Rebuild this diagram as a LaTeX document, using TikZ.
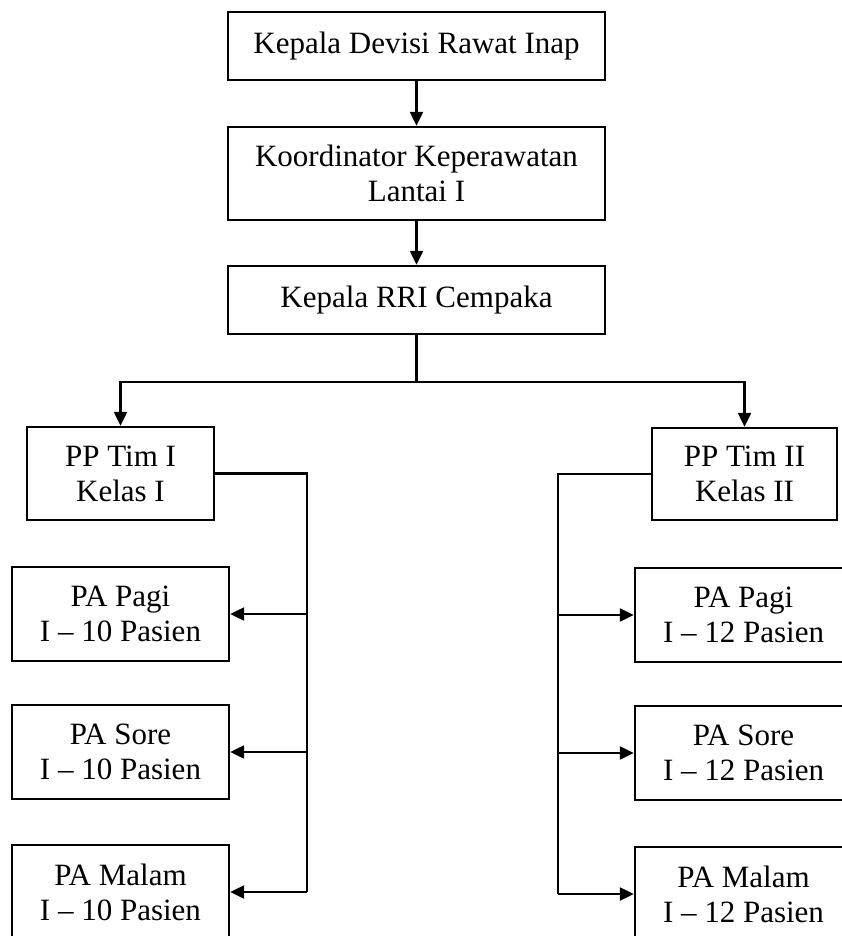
\documentclass[tikz,border=0pt]{standalone}
\usepackage{fontspec}
\setmainfont{Liberation Serif}
\usetikzlibrary{arrows.meta}
\begin{document}
\begin{tikzpicture}[x=1pt,y=-1pt,
  box/.style={draw, line width=2.4pt, rectangle, align=center, inner sep=0pt,
    font=\fontsize{31}{35}\selectfont},
  conn/.style={line width=2.3pt},
  arr/.style={conn, -{Triangle[length=14pt,width=13pt]}}]
\useasboundingbox (0,0) rectangle (842,936);
\clip (0,0) rectangle (842,936);
\node[box, minimum width=377pt, minimum height=68pt] (kd) at (416.5,46) {Kepala Devisi Rawat Inap};
\node[box, minimum width=377pt, minimum height=93pt] (kk) at (416.5,173.5) {Koordinator Keperawatan\\Lantai I};
\node[box, minimum width=377pt, minimum height=68pt] (kr) at (416.5,300) {Kepala RRI Cempaka};
\node[box, minimum width=187pt, minimum height=93pt] (pp1) at (120.5,473.5) {PP Tim I\\Kelas I};
\node[box, minimum width=185pt, minimum height=92pt] (pp2) at (744.5,474) {PP Tim II\\Kelas II};
\node[box, minimum width=217pt, minimum height=94pt] (l1) at (120.5,614) {PA Pagi\\I -- 10 Pasien};
\node[box, minimum width=217pt, minimum height=94pt] (l2) at (120.5,752) {PA Sore\\I -- 10 Pasien};
\node[box, minimum width=217pt, minimum height=94pt] (l3) at (120.5,892) {PA Malam\\I -- 10 Pasien};
\node[box, minimum width=217pt, minimum height=94pt] (r1) at (743.5,615) {PA Pagi\\I -- 12 Pasien};
\node[box, minimum width=217pt, minimum height=94pt] (r2) at (743.5,753) {PA Sore\\I -- 12 Pasien};
\node[box, minimum width=217pt, minimum height=94pt] (r3) at (743.5,894) {PA Malam\\I -- 12 Pasien};
\draw[arr] (kd) -- (kk);
\draw[arr] (kk) -- (kr);
\coordinate (j) at (416.5,382);
\draw[conn] (kr.south) -- (j);
\draw[arr] (j) -| (pp1.north);
\draw[arr] (j) -| (pp2.north);
\coordinate (lt) at (307,473.5);
\coordinate (lb) at (307,892);
\draw[conn] (pp1.east) -- (lt) -- (lb);
\draw[arr] (lt |- l1.east) -- (l1.east);
\draw[arr] (lt |- l2.east) -- (l2.east);
\draw[arr] (lb) -- (l3.east);
\coordinate (rt) at (558,474);
\coordinate (rb) at (558,894);
\draw[conn] (pp2.west) -- (rt) -- (rb);
\draw[arr] (rt |- r1.west) -- (r1.west);
\draw[arr] (rt |- r2.west) -- (r2.west);
\draw[arr] (rb) -- (r3.west);
\end{tikzpicture}
\end{document}
